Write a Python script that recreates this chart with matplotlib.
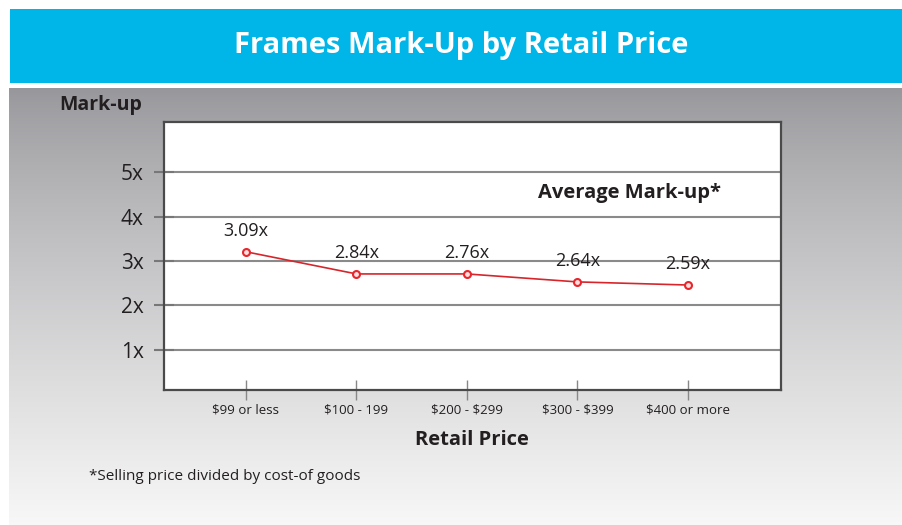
import numpy as np
import matplotlib.pyplot as plt

plt.rcParams['font.family'] = ['Open Sans', 'DejaVu Sans']

# Data
price_bands = ['$99 or less', '$100 - 199', '$200 - $299', '$300 - $399', '$400 or more']
markup = [3.21, 2.71, 2.71, 2.53, 2.46]          # where the points sit on the axis
markup_labels = ['3.09x', '2.84x', '2.76x', '2.64x', '2.59x']  # printed values
y_ticks = [1, 2, 3, 4, 5]
y_tick_labels = ['1x', '2x', '3x', '4x', '5x']

W, H = 903, 525
text_col = '#231f20'
cyan = '#00b5e8'

fig = plt.figure(figsize=(W / 100, H / 100), dpi=100)

# background: white page, cyan title band, gray gradient panel (pixel coords)
bg = fig.add_axes([0, 0, 1, 1])
bg.set_xlim(0, W)
bg.set_ylim(H, 0)
bg.axis('off')
bg.add_patch(plt.Rectangle((10, 9), W - 10, 74, color=cyan, lw=0))
grad = np.linspace(0, 1, 256).reshape(-1, 1)
top = np.array([0.592, 0.592, 0.608])
bot = np.array([0.97, 0.97, 0.97])
img = top + (bot - top) * grad[..., None] ** 0.8
bg.imshow(img.reshape(256, 1, 3), extent=(9, W, H, 88), aspect='auto')
bg.set_xlim(0, W)
bg.set_ylim(H, 0)

bg.text(461, 46, 'Frames Mark-Up by Retail Price', color='white',
        fontsize=21, fontweight='bold', ha='center', va='center')
bg.text(101, 105, 'Mark-up', color=text_col, fontsize=14,
        fontweight='bold', ha='center', va='center')
bg.text(472, 440, 'Retail Price', color=text_col, fontsize=14.5,
        fontweight='bold', ha='center', va='center')
bg.text(89, 477, '*Selling price divided by cost-of goods', color=text_col,
        fontsize=11, ha='left', va='center')

# plot area
x0, x1, y0, y1 = 164, 781, 122, 390
ax = fig.add_axes([x0 / W, (H - y1) / H, (x1 - x0) / W, (y1 - y0) / H])
ax.set_facecolor('white')
x = np.arange(len(price_bands))
ax.set_xlim(-0.742, 4.842)
ax.set_ylim(0.09, 6.14)

for yt in y_ticks:
    ax.axhline(yt, color='#8a8a8a', lw=1.5, zorder=1)

ax.plot(x, markup, color='#d7262b', lw=1.2, marker='o', markersize=5,
        markerfacecolor='#ffe0e0', markeredgecolor='#e8262b', markeredgewidth=1.5,
        zorder=3)

for xi, yi, lab in zip(x, markup, markup_labels):
    ax.annotate(lab, (xi, yi), xytext=(0, 15), textcoords='offset points',
                ha='center', va='center', fontsize=13, color=text_col)

ax.text(0.755, 0.735, 'Average Mark-up*', transform=ax.transAxes,
        ha='center', va='center', fontsize=14.5, fontweight='bold', color=text_col)

ax.set_xticks(x)
ax.set_xticklabels(price_bands, fontsize=9.5, color=text_col, parse_math=False)
ax.set_yticks(y_ticks)
ax.set_yticklabels(y_tick_labels, fontsize=15, color=text_col)
ax.tick_params(axis='x', direction='inout', length=15, width=1, color='#888888', pad=2)
ax.tick_params(axis='y', direction='inout', length=15, width=1.5, color='#777777', pad=7)

for s in ax.spines.values():
    s.set_color('#4a4a4a')
    s.set_linewidth(1.6)

fig.savefig('out.png', dpi=100)
